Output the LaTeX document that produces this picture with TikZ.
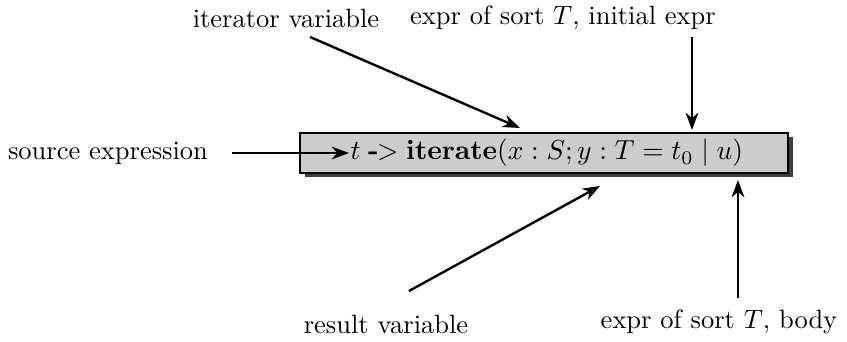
\documentclass[tikz,border=0pt]{standalone}
\usepackage{graphicx}
\usetikzlibrary{arrows.meta,shadows}
\begin{document}
\begin{tikzpicture}[x=0.3776pt,y=-0.3776pt,
  lbl/.style={inner sep=0pt},
  conn/.style={line width=0.9pt,-{Stealth[length=6.5pt,width=4.8pt,inset=2pt]}},
  mainbox/.style={draw,line width=0.75pt,fill=black!20,minimum width=184.2pt,minimum height=15.1pt,inner sep=0pt,
    drop shadow={shadow xshift=1.9pt,shadow yshift=-1.6pt,fill=black!75,opacity=1}}]
\useasboundingbox (0,0) rectangle (847,342);
\node[mainbox] (box) at (544,153) {};
\node[lbl,anchor=west] (txt) at (350,153) {\scalebox{1.04}{$t\mathrel{\textbf{-}\mkern-1mu{>}}\mathbf{iterate}(x:S;y:T=t_0\mid u)$}};
\node[lbl] (src) at (108,153) {source expression};
\node[lbl] (itv) at (286,18) {iterator variable};
\node[lbl] (ini) at (563,18) {expr of sort $T$, initial expr};
\node[lbl] (res) at (386,324) {result variable};
\node[lbl] (bod) at (719,322) {expr of sort $T$, body};
\coordinate (srcA) at (232,153);
\coordinate (srcB) at (349,153);
\coordinate (itvA) at (310,37);
\coordinate (itvB) at (520,128);
\coordinate (iniA) at (692,37);
\coordinate (iniB) at (692,130);
\coordinate (resA) at (409,291);
\coordinate (resB) at (600,186);
\coordinate (bodA) at (738,298);
\coordinate (bodB) at (738,180);
\draw[conn] (srcA) -- (srcB);
\draw[conn] (itvA) -- (itvB);
\draw[conn] (iniA) -- (iniB);
\draw[conn] (resA) -- (resB);
\draw[conn] (bodA) -- (bodB);
\end{tikzpicture}
\end{document}
